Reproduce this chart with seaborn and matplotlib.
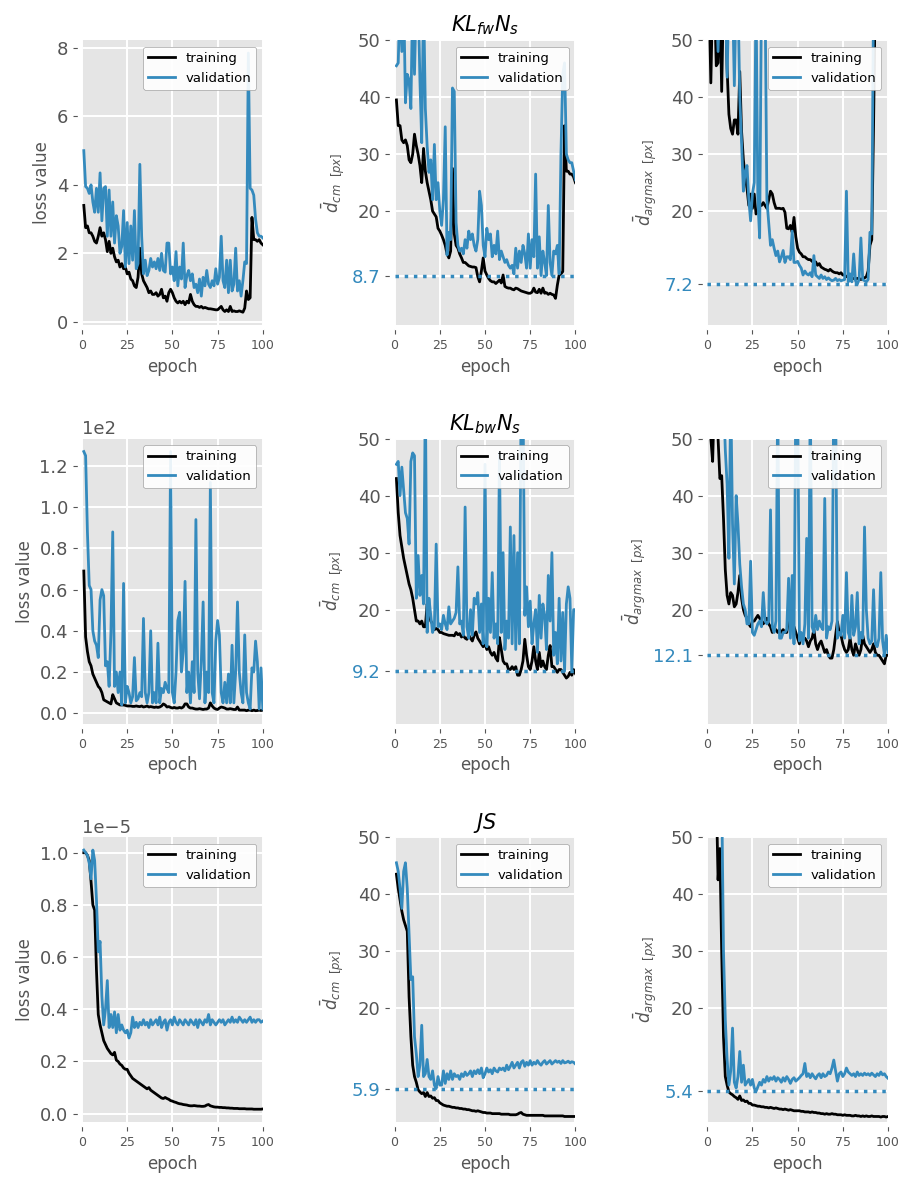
import matplotlib
matplotlib.use("Agg")
import numpy as np
import pandas as pd
import matplotlib.pyplot as plt
import seaborn as sns

epochs = list(range(1, 101))

# row 1 : KL fw Ns
fw_loss_tr = [3.4, 2.75, 2.8, 2.6, 2.6, 2.5, 2.35, 2.3, 2.5, 2.75,
              2.5, 2.6, 2.4, 2.05, 2.35, 2.0, 2.15, 1.9, 1.75, 1.8,
              1.6, 1.7, 1.55, 1.6, 1.4, 1.45, 1.25, 1.2, 1.05, 1.0,
              1.3, 2.15, 1.4, 1.2, 1.1, 1.0, 0.85, 0.9, 0.8, 0.8,
              0.85, 0.75, 0.8, 0.95, 0.7, 0.75, 0.6, 0.85, 0.95, 0.85,
              0.7, 0.6, 0.55, 0.6, 0.55, 0.6, 0.5, 0.6, 0.55, 0.8,
              0.6, 0.5, 0.45, 0.45, 0.42, 0.45, 0.4, 0.42, 0.4, 0.38,
              0.38, 0.37, 0.36, 0.35, 0.35, 0.4, 0.45, 0.35, 0.3, 0.35,
              0.3, 0.45, 0.3, 0.32, 0.3, 0.3, 0.32, 0.3, 0.28, 0.4,
              0.9, 0.65, 0.7, 3.05, 2.4, 2.4, 2.35, 2.4, 2.3, 2.25]
fw_loss_va = [5.0, 3.95, 3.9, 3.75, 4.0, 3.5, 3.2, 3.9, 3.2, 4.35,
              2.95, 3.9, 3.95, 2.5, 3.85, 2.5, 3.5, 2.3, 3.1, 2.8,
              2.0, 2.2, 3.25, 1.6, 2.9, 1.7, 2.8, 1.8, 3.25, 1.55,
              1.7, 4.6, 2.5, 1.4, 1.8, 1.35, 1.5, 1.85, 1.6, 1.75,
              1.55, 1.85, 1.5, 2.0, 1.5, 1.45, 2.3, 2.3, 1.4, 1.6,
              1.2, 2.05, 1.05, 1.6, 1.25, 2.3, 1.0, 1.35, 1.5, 1.2,
              1.4, 1.0, 1.1, 0.85, 1.25, 0.75, 1.3, 1.05, 1.5, 1.1,
              1.0, 1.2, 1.05, 1.55, 1.1, 1.3, 2.5, 1.2, 1.0, 1.8,
              0.85, 1.8, 0.9, 1.1, 2.15, 0.9, 1.2, 0.75, 1.2, 1.75,
              1.7, 7.85, 3.9, 3.85, 3.7, 3.0, 2.6, 2.5, 2.5, 2.45]
fw_cm_tr = [39.5, 35, 35, 32.5, 32, 32.5, 31.5, 29, 28.5, 30,
            33.5, 31.5, 30, 28, 25, 31, 27, 25, 23.5, 22,
            20, 19.5, 19, 17, 16.5, 15.8, 15, 14, 12.5, 11.8,
            13, 27.5, 16, 14, 13.5, 12.5, 11.8, 11, 11, 10.7,
            10.4, 10.3, 10.2, 10.2, 10.1, 8.5, 7.6, 9.5, 11.8, 9.5,
            8.8, 8.2, 7.8, 7.6, 7.6, 7.3, 7.6, 7.9, 7.4, 8.8,
            6.8, 6.6, 6.5, 6.5, 6.3, 6.2, 6.5, 6.4, 6.2, 6.0,
            5.9, 5.8, 5.7, 5.6, 5.6, 5.8, 6.5, 5.8, 5.7, 6.3,
            5.6, 6.5, 5.6, 5.7, 5.4, 5.6, 5.4, 5.3, 4.7, 7.0,
            8.8, 9.0, 9.4, 35, 27, 27, 26.5, 26.5, 26, 25]
fw_cm_va = [45.5, 46, 58, 48, 58, 39, 44, 43, 38, 58,
            44, 58, 58, 43, 32, 58, 38, 31.4, 26.8, 29,
            22, 31.7, 22, 25, 20, 17.5, 22, 34.8, 12.3, 16.3,
            15, 41.6, 41, 18, 14, 13, 13.5, 12.5, 15, 13.5,
            16.5, 15, 16, 14, 13, 15, 23.5, 21, 14, 12,
            17, 15, 16, 12, 14, 12.5, 16.5, 11.5, 13, 12,
            11, 11.5, 10.5, 10, 10.5, 9, 13.5, 10, 13, 11,
            14, 12.5, 10, 16, 10, 15, 12, 26.5, 10, 15.5,
            8.7, 13, 11, 8.7, 21, 11, 8.7, 13, 12.5, 14,
            9, 30, 44, 46, 30, 29, 28.5, 28.5, 27, 25.5]
fw_am_tr = [58, 42.5, 58, 58, 45.5, 46, 58, 41, 58, 58,
            45, 37, 34.5, 33.5, 36, 36, 33.5, 44.5, 34, 29,
            26, 24, 21, 23, 20.5, 23, 19.5, 20, 21, 21,
            21.5, 21, 20.5, 22, 23.5, 23, 21.5, 20.5, 20.5, 20.5,
            20.4, 20.5, 19.8, 17, 16.9, 17.5, 16.3, 18.9, 15.5, 13.5,
            12.8, 12.5, 12, 12, 11.7, 11.5, 11.5, 11.2, 11, 11.1,
            10.5, 10.8, 10.2, 10, 9.8, 9.7, 9.5, 9.8, 9.5, 9.3,
            9.2, 9.2, 9, 9.2, 8.8, 8.8, 8.5, 8.6, 8.3, 8.2,
            8.2, 8.1, 8.2, 8.2, 8.0, 8.2, 8.3, 8.5, 9.5, 14,
            15, 35, 60, 60, 60, 60, 60, 60, 60, 60]
fw_am_va = [58, 58, 58, 58, 58, 48, 58, 58, 58, 58,
            43.5, 58, 58, 58, 42, 58, 58, 40, 32, 23.5,
            27, 28, 22, 18.3, 23, 25, 58, 22, 15.3, 58,
            58, 58, 22, 18, 14, 15, 13.5, 12.2, 13, 11.1,
            12, 13.1, 11, 12, 12, 11.5, 16.5, 11, 11, 11.2,
            10.5, 10, 8.8, 9.5, 9, 8.8, 9.2, 8.5, 12.2, 8.8,
            8.5, 8.2, 8.8, 8.2, 8.5, 8.0, 8.3, 8.0, 7.8, 7.9,
            8.2, 7.8, 8.0, 7.8, 7.9, 8.0, 23.5, 7.6, 9.0, 7.6,
            12.5, 7.8, 7.2, 8.0, 15.3, 8.0, 7.8, 7.6, 8.0, 16.3,
            16, 58, 60, 60, 60, 60, 60, 60, 60, 60]

# row 2 : KL bw Ns
bw_loss_tr = [69, 37, 30, 25, 23, 19, 17, 15, 13, 12,
              10, 6.5, 6, 5.5, 5, 4.5, 9, 7, 5, 4.5,
              4, 4, 4, 3.8, 3.5, 3.5, 3.5, 3.3, 3.3, 3.5,
              3.3, 3.2, 3.5, 3, 3.2, 3.5, 3, 3.2, 3, 2.8,
              3, 2.8, 3, 3.5, 4.5, 4, 3, 3.2, 2.8, 2.5,
              2.8, 2.5, 2.5, 2.8, 2.5, 3, 4.5, 4.5, 3, 2.5,
              2.5, 2.2, 2, 2, 2.2, 2, 1.8, 2, 2, 2.5,
              5, 3.5, 2.5, 2, 1.8, 2.5, 3, 2.8, 2.5, 2,
              2, 2.2, 2, 1.8, 1.8, 3, 1.5, 1.5, 1.5, 1.5,
              1.2, 1.5, 1.5, 1.2, 1.5, 1.2, 1.3, 1.5, 1.3, 1.5]
bw_loss_va = [127, 125, 88, 62, 60, 40, 35, 33, 27, 55,
              60, 57, 23, 25, 13, 39, 88, 13, 20, 10,
              20, 4, 63, 5, 13, 10, 5, 8, 27, 6,
              7, 10, 8, 46, 10, 5, 10, 40, 5, 10,
              5, 34, 5, 12, 10, 15, 12, 10, 127, 10,
              5, 20, 45, 49, 20, 30, 64, 10, 20, 5,
              25, 10, 94, 20, 7, 25, 54, 5, 20, 10,
              112, 10, 5, 35, 45, 38, 10, 5, 15, 5,
              19, 5, 33, 5, 20, 54, 20, 10, 5, 38,
              10, 5, 2, 22, 20, 35, 25, 2, 22, 2]
bw_cm_tr = [43, 37, 33, 31, 29, 27.5, 26, 24.5, 23.5, 22,
            20, 18, 18, 17.5, 18, 17, 17, 21, 19.5, 18,
            17.5, 16.5, 16.7, 16.5, 16, 16, 15.8, 15.7, 15.6, 15.5,
            15.5, 15.5, 15.4, 16, 15.6, 15.8, 15.2, 15.5, 15.0, 14.8,
            15.5, 15, 14.5, 15.5, 16.1, 15, 14.5, 14, 13.5, 14,
            13, 13.5, 12.5, 12, 12.5, 11.5, 11, 15.1, 13, 11,
            10.5, 10.5, 9.5, 9.5, 10, 9.5, 10, 8.5, 8.5, 9.5,
            11, 14.8, 12, 10, 9.5, 11, 13.5, 11, 9.5, 12.5,
            10, 11, 10, 9.5, 12, 13.7, 10, 10, 9.5, 9,
            9.5, 9.5, 9, 8.5, 8, 8.3, 9, 8.5, 9.5, 8.8]
bw_cm_va = [45.5, 46, 40, 45, 41, 37, 36, 31.5, 46, 47.5,
            47, 22, 29.5, 22.5, 26, 21, 58, 16, 22, 19,
            16, 17, 31.5, 17, 17.5, 16.5, 19, 17.5, 16.5, 20.5,
            17.5, 18, 18.5, 19.5, 27.5, 17.5, 18, 15.5, 38, 17,
            15, 20, 15.5, 22, 21, 23, 16, 21, 14, 45.5,
            13.5, 22, 16, 26.5, 15, 17.5, 14, 47.5, 16, 30,
            13, 18, 15, 34.5, 14, 33, 13, 30, 14, 58,
            58, 19, 24, 17, 21.5, 14, 17.5, 20, 12.5, 22.5,
            15, 21, 19, 13, 26, 18, 30, 12, 16, 10.5,
            22, 11, 19.5, 9.2, 21, 24, 22, 9.5, 20, 20]
bw_am_tr = [58, 50, 46, 58, 58, 50, 43, 43.5, 36, 27,
            22.5, 21, 23, 22.5, 20.5, 21, 23, 26, 22, 20,
            19, 18.5, 17.5, 17, 18, 18, 18.5, 19, 18.5, 18,
            17.5, 18, 18.5, 17.5, 17, 16, 16.5, 16.5, 16, 16.5,
            16, 16.5, 16, 16, 18.3, 17, 16.5, 17, 16, 15,
            14, 15.5, 15, 15, 14.5, 13.5, 14.5, 15, 16.5, 14,
            13, 14, 14.5, 13.5, 12.5, 13, 12, 11.5, 11.5, 13,
            15.5, 17.9, 16, 15.5, 14, 13, 12.5, 13, 15, 13,
            12, 14, 13, 12, 13, 15.5, 14, 13.5, 13, 12.5,
            13, 14, 12.5, 12, 12, 11.5, 11, 10.5, 12, 12]
bw_am_va = [58, 58, 58, 58, 58, 58, 58, 58, 58, 48,
            42, 29, 58, 35, 24.5, 40, 35, 28, 24, 21,
            20, 17.5, 17.5, 28.5, 16, 15.5, 16.5, 17.5, 18, 17,
            23, 18, 17.5, 18, 37.5, 17, 16, 18, 58, 15,
            15, 16, 16, 16.5, 25.5, 15, 26, 14, 58, 58,
            14.5, 16, 14, 17.5, 32.5, 15, 58, 17, 16, 19,
            16.5, 18, 17, 16.5, 39.5, 15, 17, 16.5, 18, 58,
            58, 15, 16, 15.5, 19, 15, 26.5, 16, 15, 22.5,
            15.5, 17, 23, 14, 16, 15, 34.5, 20, 15, 14,
            14.5, 23.5, 14, 13.5, 15, 26.5, 14.5, 12.1, 15.5, 12.5]

# row 3 : JS  (loss in units of 1e-5)
js_loss_tr_e5 = [1.0, 1.0, 0.99, 0.97, 0.89, 0.80, 0.78, 0.55, 0.38, 0.34,
                 0.31, 0.28, 0.265, 0.25, 0.24, 0.23, 0.225, 0.235, 0.205, 0.2,
                 0.19, 0.185, 0.175, 0.17, 0.17, 0.155, 0.145, 0.135, 0.13, 0.125,
                 0.12, 0.115, 0.11, 0.105, 0.1, 0.095, 0.1, 0.09, 0.085, 0.08,
                 0.075, 0.07, 0.065, 0.06, 0.058, 0.062, 0.058, 0.055, 0.05, 0.048,
                 0.045, 0.043, 0.04, 0.038, 0.037, 0.035, 0.034, 0.033, 0.031, 0.03,
                 0.03, 0.031, 0.03, 0.029, 0.029, 0.028, 0.028, 0.029, 0.033, 0.035,
                 0.03, 0.028, 0.026, 0.025, 0.025, 0.024, 0.024, 0.023, 0.023, 0.022,
                 0.022, 0.021, 0.021, 0.02, 0.02, 0.02, 0.019, 0.019, 0.019, 0.019,
                 0.018, 0.018, 0.018, 0.018, 0.017, 0.017, 0.017, 0.017, 0.017, 0.018]
js_loss_va_e5 = [1.01, 1.0, 0.99, 0.96, 0.9, 1.01, 0.97, 0.82, 0.62, 0.66,
                 0.45, 0.34, 0.40, 0.51, 0.33, 0.38, 0.33, 0.39, 0.31, 0.38,
                 0.32, 0.34, 0.32, 0.31, 0.32, 0.29, 0.31, 0.37, 0.33, 0.35,
                 0.33, 0.35, 0.34, 0.36, 0.34, 0.35, 0.33, 0.36, 0.34, 0.35,
                 0.36, 0.34, 0.37, 0.33, 0.35, 0.36, 0.32, 0.35, 0.36, 0.34,
                 0.37, 0.35, 0.34, 0.36, 0.35, 0.34, 0.36, 0.35, 0.34, 0.36,
                 0.35, 0.34, 0.36, 0.33, 0.36, 0.35, 0.34, 0.36, 0.35, 0.38,
                 0.34, 0.36, 0.35, 0.34, 0.35, 0.36, 0.35, 0.36, 0.34, 0.35,
                 0.36, 0.35, 0.37, 0.35, 0.36, 0.35, 0.37, 0.36, 0.35, 0.36,
                 0.35, 0.36, 0.37, 0.35, 0.36, 0.35, 0.36, 0.36, 0.35, 0.355]
js_cm_tr = [43.5, 41, 39, 37, 35.5, 34.5, 33.5, 22, 15, 10,
            8, 7, 5.7, 5.3, 5.0, 5.2, 4.5, 5.2, 4.5, 4.6,
            4.2, 4.3, 3.8, 3.8, 3.4, 3.2, 3.0, 2.9, 2.8, 2.8,
            2.7, 2.6, 2.6, 2.5, 2.5, 2.4, 2.4, 2.3, 2.3, 2.2,
            2.2, 2.1, 2.0, 2.0, 1.9, 2.0, 1.9, 1.8, 1.7, 1.7,
            1.6, 1.6, 1.6, 1.5, 1.5, 1.5, 1.5, 1.5, 1.4, 1.4,
            1.4, 1.4, 1.4, 1.3, 1.3, 1.3, 1.3, 1.4, 1.6, 1.7,
            1.4, 1.3, 1.2, 1.2, 1.2, 1.2, 1.2, 1.2, 1.2, 1.2,
            1.2, 1.2, 1.1, 1.1, 1.1, 1.1, 1.1, 1.1, 1.1, 1.1,
            1.1, 1.1, 1.1, 1.0, 1.0, 1.0, 1.0, 1.0, 1.0, 1.0]
js_cm_va = [45.5, 44, 41, 37.5, 44, 45.5, 41, 33, 25, 25.5,
            15, 12, 8, 10, 17, 8, 8.5, 11, 8, 7.5,
            9, 6.5, 5.9, 8, 6.5, 6.5, 9, 6.8, 8.5, 7.5,
            9, 7.5, 8.5, 8, 8.2, 7.5, 8.5, 8, 8.8, 8.2,
            8.5, 9, 8, 9, 8.5, 9.2, 8.5, 9.5, 7.8, 8.5,
            9.5, 8.8, 9.2, 8.5, 9.5, 9, 8.8, 9.5, 9.2, 9.5,
            9, 10, 9.2, 9.8, 10.5, 9.5, 10, 10.5, 9.5, 10.5,
            10.8, 9.8, 10.5, 10, 10.8, 10, 10.5, 10.2, 10.8, 10.3,
            10, 10.5, 10.8, 10.2, 10.5, 10.8, 10.2, 10.5, 10.8, 10.5,
            10.7, 10.3, 10.8, 10.4, 10.5, 10.7, 10.4, 10.6, 10.5, 10.2]
js_am_tr = [58, 58, 58, 58, 58, 42.5, 48, 30, 15, 8,
            6.5, 5.3, 5.0, 4.8, 4.5, 4.3, 4.0, 4.6, 3.8, 3.9,
            3.6, 3.7, 3.3, 3.3, 3.0, 3.0, 2.9, 2.8, 2.8, 2.7,
            2.7, 2.6, 2.6, 2.5, 2.6, 2.5, 2.4, 2.5, 2.4, 2.3,
            2.3, 2.2, 2.3, 2.2, 2.1, 2.2, 2.1, 2.0, 2.0, 2.0,
            2.0, 1.9, 1.9, 1.8, 1.8, 1.8, 1.7, 1.8, 1.7, 1.7,
            1.6, 1.6, 1.5, 1.5, 1.4, 1.5, 1.4, 1.4, 1.5, 1.4,
            1.4, 1.3, 1.3, 1.3, 1.2, 1.3, 1.2, 1.2, 1.2, 1.1,
            1.1, 1.2, 1.1, 1.1, 1.0, 1.1, 1.0, 1.1, 1.0, 1.0,
            1.1, 1.0, 1.0, 1.0, 1.0, 0.9, 1.0, 1.0, 0.9, 1.0]
js_am_va = [58, 58, 58, 58, 58, 58, 58, 58, 30, 18,
            11, 6.5, 9, 16.5, 7, 6, 8, 12.4, 7, 10,
            6.5, 7, 7.5, 6.5, 7.5, 6, 5.4, 6.2, 7, 6.5,
            7.5, 7, 8, 7.2, 7.8, 7.5, 8, 7.2, 7.8, 7.5,
            7, 7.8, 7.2, 8, 7.5, 6.8, 7.5, 7.8, 7.2, 7.5,
            7.8, 8.2, 8.5, 10.3, 8, 8.5, 7.8, 8.5, 8, 7.6,
            8.2, 8.5, 7.8, 8.5, 8, 8.2, 8.8, 8.5, 9.5, 10.9,
            9, 7.2, 8.5, 8.8, 8, 8.5, 9.5, 8.8, 8.5, 8.2,
            8.5, 8, 8.8, 8.2, 8.5, 8.2, 8.6, 8.3, 8.5, 8.2,
            8.6, 8.3, 8, 8.5, 8.2, 8.8, 8.3, 8.5, 8.0, 7.7]

js_loss_tr = [v * 1e-5 for v in js_loss_tr_e5]
js_loss_va = [v * 1e-5 for v in js_loss_va_e5]

titles = [r"$KL_{fw}N_s$", r"$KL_{bw}N_s$", r"$JS$"]
BLUE = "#348ABD"

plt.style.use("ggplot")
plt.rcParams.update({
    "ytick.labelsize": 13,
    "xtick.labelsize": 9,
    "axes.labelsize": 12,
    "axes.titlesize": 15,
    "legend.fontsize": 9.5,
    "grid.linewidth": 1.4,
})


def draw_curves(ax, train, val):
    df = pd.DataFrame({
        "epoch": epochs + epochs,
        "value": train + val,
        "series": ["training"] * len(train) + ["validation"] * len(val),
    })
    sns.lineplot(data=df, x="epoch", y="value", hue="series",
                 palette={"training": "black", "validation": BLUE},
                 linewidth=2, errorbar=None, legend=False, ax=ax)
    ax.legend(ax.lines[:2], ["training", "validation"], loc="upper right",
              facecolor="white", edgecolor="0.6", framealpha=0.9)
    ax.set_xlim(0, 100)
    ax.set_xticks([0, 25, 50, 75, 100])
    ax.set_xlabel("epoch")
    sns.despine(ax=ax, offset=3)


def mark_best(ax, val):
    best = min(val)
    ax.set_ylim(0, 50)
    ax.axhline(best, color=BLUE, linestyle=":", linewidth=2.5)
    ax.set_yticks([best, 20, 30, 40, 50])
    ax.set_yticklabels([f"{best:.1f}", "20", "30", "40", "50"])
    ax.get_yticklabels()[0].set_color(BLUE)


fig, axes = plt.subplots(3, 3, figsize=(9.08, 11.8), dpi=100)
fig.subplots_adjust(left=0.0903, right=0.978, top=0.966, bottom=0.049,
                    wspace=0.729, hspace=0.398)

rows = [
    (fw_loss_tr, fw_loss_va, fw_cm_tr, fw_cm_va, fw_am_tr, fw_am_va),
    (bw_loss_tr, bw_loss_va, bw_cm_tr, bw_cm_va, bw_am_tr, bw_am_va),
    (js_loss_tr, js_loss_va, js_cm_tr, js_cm_va, js_am_tr, js_am_va),
]

for i, (l_tr, l_va, c_tr, c_va, a_tr, a_va) in enumerate(rows):
    ax = axes[i, 0]
    draw_curves(ax, l_tr, l_va)
    ax.ticklabel_format(axis="y", style="sci", scilimits=(0, 0))
    ax.set_ylabel("loss value")

    ax = axes[i, 1]
    draw_curves(ax, c_tr, c_va)
    mark_best(ax, c_va)
    ax.set_ylabel(r"$\bar{d}_{cm\ \ [px]}$")
    ax.set_title(titles[i], color="black")

    ax = axes[i, 2]
    draw_curves(ax, a_tr, a_va)
    mark_best(ax, a_va)
    ax.set_ylabel(r"$\bar{d}_{argmax\ \ [px]}$")

plt.savefig("out.png", dpi=100)
